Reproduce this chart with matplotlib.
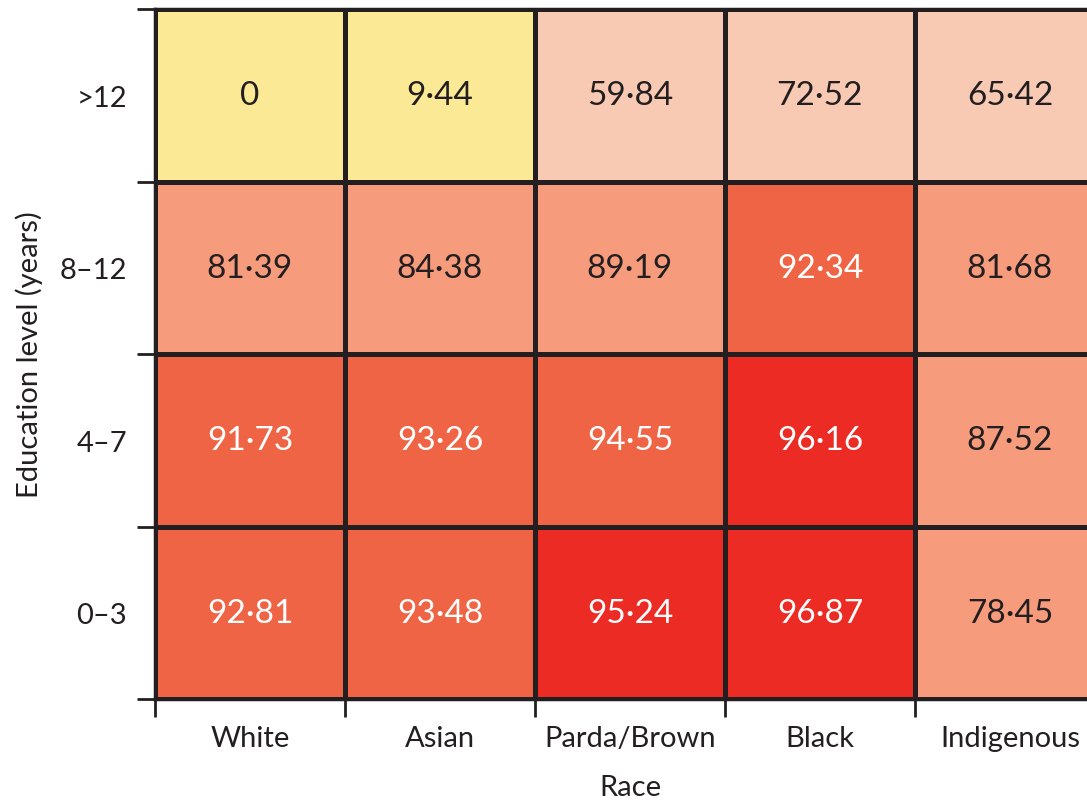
import numpy as np
import matplotlib
matplotlib.use("Agg")
import matplotlib.pyplot as plt
from matplotlib.colors import ListedColormap, BoundaryNorm

plt.rcParams['font.family'] = ['Lato', 'DejaVu Sans']

races = ["White", "Asian", "Parda/Brown", "Black", "Indigenous"]
education = ["0\u20133", "4\u20137", "8\u201312", ">12"]  # bottom to top
values = np.array([
    [92.81, 93.48, 95.24, 96.87, 78.45],   # 0-3
    [91.73, 93.26, 94.55, 96.16, 87.52],   # 4-7
    [81.39, 84.38, 89.19, 92.34, 81.68],   # 8-12
    [0.00, 9.44, 59.84, 72.52, 65.42],     # >12
])

# binned colour scale
bounds = [0, 50, 75, 90, 95, 100]
colours = ["#fbe996", "#f9cab3", "#f79b7d", "#ef6444", "#ec2b24"]
cmap = ListedColormap(colours)
norm = BoundaryNorm(bounds, cmap.N)

fig = plt.figure(figsize=(10.87, 8.04), dpi=100)
ax = fig.add_axes([155 / 1087, 104 / 804, 950 / 1087, 690 / 804])

ax.pcolormesh(np.arange(6), np.arange(5), values, cmap=cmap, norm=norm,
              edgecolors="#231f20", linewidth=2.5)

for i in range(values.shape[0]):
    for j in range(values.shape[1]):
        v = values[i, j]
        txt = "0" if v == 0 else f"{v:.2f}".replace(".", "\u00b7")
        col = "white" if v >= 90 else "#231f20"
        ax.text(j + 0.5, i + 0.5, txt, ha="center", va="center",
                fontsize=24, color=col)

ax.set_xlim(0, 5)
ax.set_ylim(0, 4)

ax.set_xticks(np.arange(5) + 0.5)
ax.set_xticklabels(races)
ax.set_yticks(np.arange(4) + 0.5)
ax.set_yticklabels(education)
ax.set_xticks(np.arange(6), minor=True)
ax.set_yticks(np.arange(5), minor=True)
ax.tick_params(which="major", length=0, labelsize=21, colors="#231f20")
ax.tick_params(axis="x", which="major", pad=19)
ax.tick_params(axis="y", which="major", pad=20)
ax.tick_params(which="minor", length=13, width=2, color="#231f20")

for s in ax.spines.values():
    s.set_linewidth(2.5)
    s.set_color("#231f20")

ax.set_xlabel("Race", fontsize=21, color="#231f20", labelpad=16)
ax.set_ylabel("Education level (years)", fontsize=21, color="#231f20", labelpad=12)

fig.savefig("out.png", dpi=100)
